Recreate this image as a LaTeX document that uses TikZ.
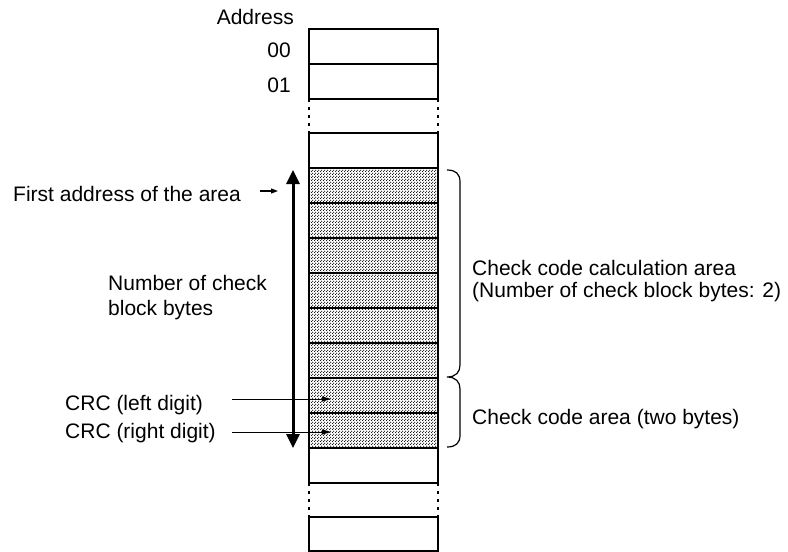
\documentclass[tikz,border=0pt]{standalone}
\usepackage{fontspec}
\setmainfont{Liberation Sans}
\usetikzlibrary{arrows.meta,patterns}
\pgfdeclarepatternformonly{finedots}{\pgfqpoint{-0.75pt}{-0.75pt}}{\pgfqpoint{2.25pt}{2.25pt}}{\pgfqpoint{3pt}{3pt}}{%
  \pgfpathcircle{\pgfqpoint{0pt}{0pt}}{0.75pt}%
  \pgfpathcircle{\pgfqpoint{1.5pt}{1.5pt}}{0.75pt}%
  \pgfusepath{fill}}
\begin{document}
\begin{tikzpicture}[x=1pt,y=-1pt,
  cell/.style={draw=black,line width=1.2pt,minimum width=129pt,minimum height=35pt,inner sep=0pt,outer sep=0pt},
  shaded/.style={cell,pattern=finedots,pattern color=black},
  lbl/.style={font=\fontsize{21}{24}\selectfont,inner sep=0pt,anchor=base west},
  lble/.style={lbl,anchor=base east},
  gapside/.style={line width=1.2pt,dash pattern=on 3pt off 5pt},
  bigarrow/.style={line width=3pt,{Triangle[width=13pt,length=14pt]}-{Triangle[width=13pt,length=14pt]}},
  smallarrow/.style={line width=0.8pt,-{Triangle[width=5pt,length=9pt]}},
  tinyarrow/.style={line width=1.2pt,-{Triangle[width=5pt,length=7pt]}},
  bracepath/.style={line width=1.2pt}]
\useasboundingbox (0,0) rectangle (788,552);
% memory cells
\node[cell] (c0) at (373.5,46.5) {};
\node[cell] (c1) at (373.5,81.5) {};
\node[cell] (c2) at (373.5,150.5) {};
\foreach \i in {1,...,8}{
  \node[shaded] (s\i) at (373.5,{150.5+35*\i}) {};
}
\node[cell] (c3) at (373.5,465.5) {};
\node[cell,minimum height=34pt] (c4) at (373.5,534) {};
% dotted gaps
\draw[gapside] (c1.south west) -- (c2.north west);
\draw[gapside] (c1.south east) -- (c2.north east);
\draw[gapside] (c3.south west) -- (c4.north west);
\draw[gapside] (c3.south east) -- (c4.north east);
% address labels
\node[lble] (addr) at (294,24) {Address};
\node[lble] (a00) at (291,57) {00};
\node[lble] (a01) at (291,92) {01};
% first address
\node[lbl] (first) at (13,201) {First address of the area};
\coordinate (fa1) at (260,191);
\coordinate (fa2) at (278,191);
\draw[tinyarrow] (fa1) -- (fa2);
% big arrow
\coordinate (atop) at (293,170);
\coordinate (abot) at (293,448);
\draw[bigarrow] (abot) -- (atop);
% number of check block bytes
\node[lbl] (nb1) at (108,290) {Number of check};
\node[lbl] (nb2) at (108,315) {block bytes};
% CRC
\node[lbl] (crcl) at (65,410) {CRC (left digit)};
\node[lbl] (crcr) at (65,438) {CRC (right digit)};
\coordinate (cl1) at (232,399);
\coordinate (cl2) at (331,399);
\coordinate (cr1) at (232,432);
\coordinate (cr2) at (331,432);
\draw[smallarrow] (cl1) -- (cl2);
\draw[smallarrow] (cr1) -- (cr2);
% braces
\draw[bracepath] (447,170) .. controls (456,170) and (460,174) .. (460,182)
  -- (460,365) .. controls (460,372) and (456,377) .. (447,377)
  .. controls (456,377) and (460,382) .. (460,389)
  -- (460,435) .. controls (460,443) and (456,447) .. (447,447);
% right labels
\node[lbl] (calc1) at (472,275) {Check code calculation area};
\node[lbl] (calc2) at (472,297) {(Number of check block bytes: 2)};
\node[lbl] (cca) at (472,424) {Check code area (two bytes)};
\end{tikzpicture}
\end{document}
